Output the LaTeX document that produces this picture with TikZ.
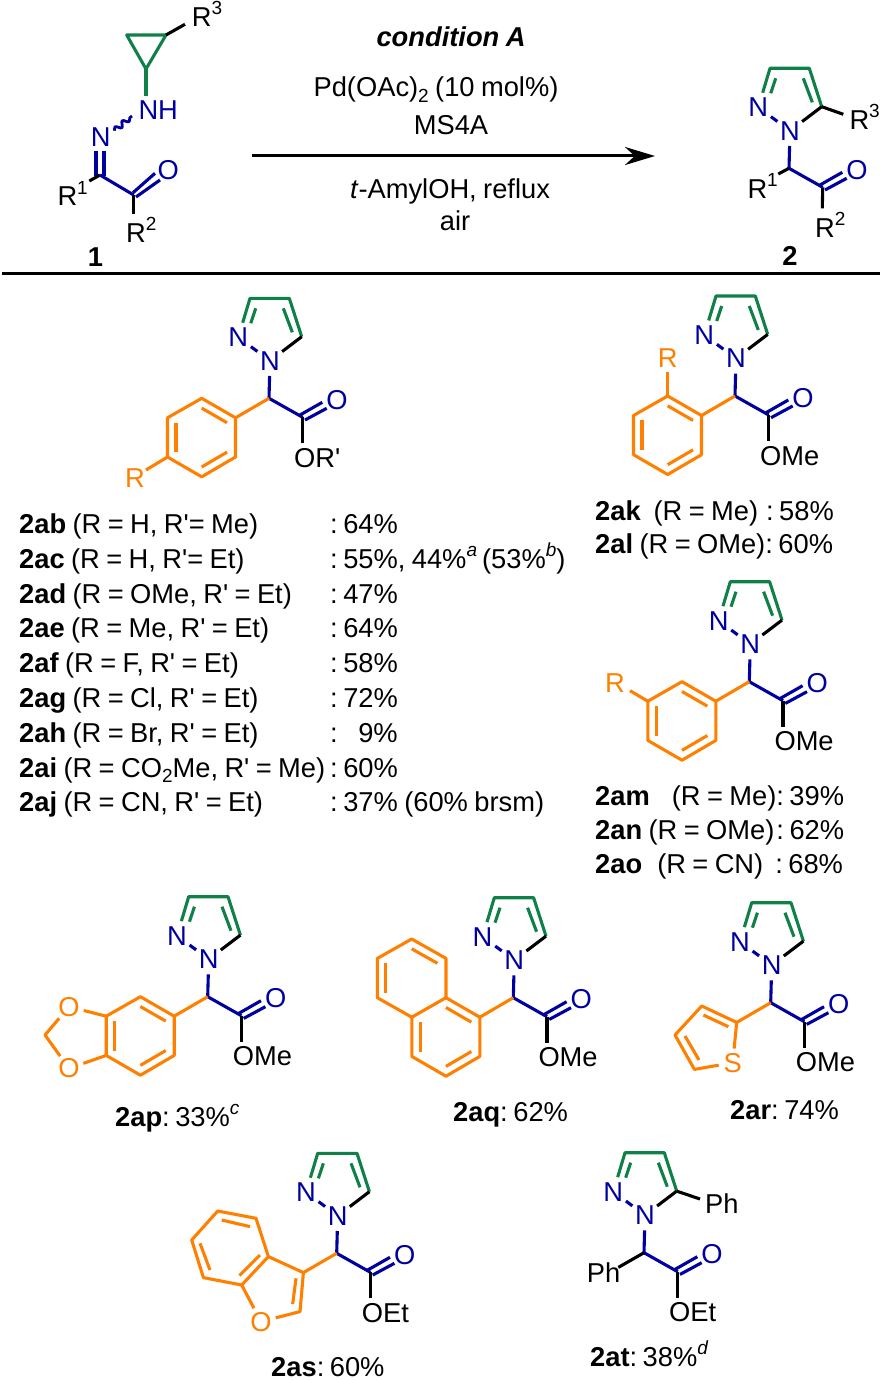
\documentclass[tikz,border=0pt]{standalone}
\usepackage{fontspec}
\setmainfont{Liberation Sans}
\usetikzlibrary{arrows.meta,calc,decorations.pathmorphing}

\definecolor{pzgreen}{HTML}{0F8048}
\definecolor{coreblue}{HTML}{0000A0}
\definecolor{arylorange}{HTML}{FF8000}

\newcommand{\chemfont}{\fontsize{27.3}{30}\selectfont\spaceskip=6.4pt\relax}

\tikzset{
  every node/.style={font=\chemfont,inner sep=0pt},
  bond/.style={draw=black,line width=3.1pt,line join=round},
  greenbond/.style={bond,draw=pzgreen},
  bluebond/.style={bond,draw=coreblue},
  orangebond/.style={bond,draw=arylorange},
  atom/.style={circle,minimum size=30pt,text=coreblue},
  label/.style={anchor=base west},
}

\newcommand{\pr}{\textquotesingle}
\newcommand{\sups}[1]{\raisebox{0.43em}{\fontsize{19}{20}\selectfont #1}}
\newcommand{\subs}[1]{\raisebox{-0.2em}{\fontsize{19}{20}\selectfont #1}}
\newcommand{\colsp}{:\hspace{5.5pt}}

% pyrazole ring, CH and C=O, all relative to the CH
\newcommand{\pzarm}[1]{
  \coordinate (#1Ca) at (0,0);
  \coordinate (#1C3) at (-19,-100);
  \coordinate (#1C4) at (20.3,-100);
  \coordinate (#1C5) at (32.7,-61.6);
  \coordinate (#1Cc) at (33.7,19);
  \node[atom] (#1N1) at (1,-37.5) {N};
  \node[atom] (#1N2) at (-30.7,-61) {N};
  \node[atom] (#1O) at (68,1.7) {O};
  \draw[greenbond] (#1N2) -- (#1C3) -- (#1C4) -- (#1C5);
  \draw[greenbond] (-13.3,-90) -- (-18.3,-75);
  \draw[greenbond] (14.3,-90) -- (23.3,-66);
  \draw[bond] (#1C5) -- (#1N1);
  \draw[bluebond,shorten >=0.5pt,shorten <=0.5pt] (#1N2) -- (#1N1);
  \draw[bluebond] (#1N1) -- (#1Ca) -- (#1Cc);
  \draw[bluebond] (31,16.7) -- (53.3,4);
  \draw[bluebond] (36,21.7) -- (57.7,10);
}

% ester arm below the C=O
\newcommand{\esterarm}[2]{
  \coordinate (#1Oe) at (33.7,45);
  \draw[bond] (#1Cc) -- (#1Oe);
  \node[label] (#1OR) at (25,69) {#2};
}

% benzene ring hanging off the CH
\newcommand{\benzring}[1]{
  \coordinate (#1c) at (-67.4,39.2);
  \coordinate (#1a) at (-33.5,19.5);
  \coordinate (#1b) at (-67.3,0);
  \coordinate (#1d) at (-101.5,19.5);
  \coordinate (#1e) at (-101.5,58.7);
  \coordinate (#1f) at (-67.3,78.5);
  \coordinate (#1g) at (-33.5,58.7);
  \draw[orangebond] (#1Ca) -- (#1a);
  \draw[orangebond] (#1a) -- (#1b) -- (#1d) -- (#1e) -- (#1f) -- (#1g) -- cycle;
  \draw[orangebond] ($(#1c)!.75!(#1a)$) -- ($(#1c)!.75!(#1b)$);
  \draw[orangebond] ($(#1c)!.75!(#1d)$) -- ($(#1c)!.75!(#1e)$);
  \draw[orangebond] ($(#1c)!.75!(#1f)$) -- ($(#1c)!.75!(#1g)$);
}

\begin{document}
\begin{tikzpicture}[x=1pt,y=-1pt]

\useasboundingbox (0,0) rectangle (883,1380);

%reactant 1
\coordinate (cpa) at (126.7,35);
\coordinate (cpb) at (166,35);
\coordinate (cpc) at (146,69);
\coordinate (rthree) at (185,24.3);
\coordinate (imc) at (100,175);
\coordinate (coc) at (133.7,195);
\coordinate (rone) at (89.3,181);
\coordinate (rtwo) at (133.7,214);
\coordinate (nhtop) at (146,96);
\coordinate (wavea) at (114.3,130.7);
\coordinate (waveb) at (132,116);
\node[label] (rthreelab) at (191.7,26.7) {R\sups{3}};
\node[label,text=coreblue] (nh) at (138.3,120) {NH};
\node[atom] (iminen) at (100.7,136.7) {N};
\node[atom] (cotop) at (168.3,170) {O};
\node[label] (ronelab) at (57.3,206) {R\sups{1}};
\node[label] (rtwolab) at (126,242.7) {R\sups{2}};
\node[font=\chemfont\bfseries] (one) at (95.5,257) {1};
\draw[greenbond] (cpa) -- (cpb) -- (cpc) -- cycle;
\draw[greenbond] (cpc) -- (nhtop);
\draw[bond] (cpb) -- (rthree);
\draw[bluebond,line width=2.8pt,decorate,decoration={snake,amplitude=2.6pt,segment length=9.5pt}] (wavea) -- (waveb);
\draw[bluebond] (96,150.7) -- (96,176);
\draw[bluebond] (104,150.7) -- (104,176);
\draw[bond] (imc) -- (rone);
\draw[bluebond] (imc) -- (coc);
\draw[bluebond] (133,192.7) -- (155,173.3);
\draw[bluebond] (136,197) -- (160,180);
\draw[bond] (coc) -- (rtwo);

%arrow and conditions
\coordinate (arrowa) at (252,156);
\coordinate (arrowb) at (655,156);
\draw[draw=black,line width=3pt,-{Stealth[length=30pt,width=18pt]}] (arrowa) -- (arrowb);
\node[anchor=base,font=\chemfont\bfseries\itshape] (condA) at (451,47) {condition A};
\node[anchor=base] (pd) at (436,97) {Pd(OAc)\subs{2} (10 mol\%)};
\node[anchor=base] (ms) at (451,135) {MS4A};
\node[anchor=base] (amyl) at (450,199) {\textit{t}-AmylOH, reflux};
\node[anchor=base] (air) at (455,231) {air};

%product 2
\begin{scope}[shift={(789,168.3)}]
\pzarm{prod}
\coordinate (prodRa) at (54.3,-54);
\coordinate (prodRb) at (-10.7,5.7);
\coordinate (prodRc) at (33.3,40);
\draw[bond] (prodC5) -- (prodRa);
\draw[bond] (prodCa) -- (prodRb);
\draw[bond] (prodCc) -- (prodRc);
\node[label] (prodRthree) at (60.3,-39) {R\sups{3}};
\node[label] (prodRone) at (-41.7,30) {R\sups{1}};
\node[label] (prodRtwo) at (26,69) {R\sups{2}};
\end{scope}
\node[font=\chemfont\bfseries] (two) at (790,256) {2};

%separator
\coordinate (sepa) at (2,273);
\coordinate (sepb) at (880,273);
\draw[draw=black,line width=3pt] (sepa) -- (sepb);

%para
\begin{scope}[shift={(269,398.3)}]
\pzarm{pa}
\esterarm{pa}{OR\pr}
\benzring{pa}
\coordinate (paRe) at (-123,71.7);
\draw[orangebond] (pae) -- (paRe);
\node[text=arylorange] (paR) at (-134,79.4) {R};
\end{scope}

%ortho
\begin{scope}[shift={(735,396)}]
\pzarm{or}
\esterarm{or}{OMe}
\benzring{or}
\coordinate (orRe) at (-67.3,-24);
\draw[orangebond] (orb) -- (orRe);
\node[text=arylorange] (orR) at (-67.3,-37.7) {R};
\end{scope}

%meta
\begin{scope}[shift={(749.3,681.7)}]
\pzarm{me}
\esterarm{me}{OMe}
\benzring{me}
\coordinate (meRe) at (-119.3,9);
\draw[orangebond] (med) -- (meRe);
\node[text=arylorange] (meR) at (-134.3,1.7) {R};
\end{scope}

%2ap
\begin{scope}[shift={(207.7,996.7)}]
\pzarm{ap}
\esterarm{ap}{OMe}
\benzring{ap}
\node[atom,text=arylorange] (apOa) at (-138.7,10) {O};
\node[atom,text=arylorange] (apOb) at (-138.7,71.7) {O};
\coordinate (apch) at (-162.7,38.3);
\draw[orangebond] (apd) -- (apOa) -- (apch) -- (apOb) -- (ape);
\end{scope}

%2aq
\begin{scope}[shift={(513.3,997.7)}]
\pzarm{aq}
\esterarm{aq}{OMe}
\benzring{aq}
\coordinate (aqcc) at (-101.6,-19.6);
\coordinate (aqh) at (-67.3,-39.3);
\coordinate (aqi) at (-101.6,-58.7);
\coordinate (aqj) at (-136,-39.3);
\coordinate (aqk) at (-136,0);
\draw[orangebond] (aqb) -- (aqh) -- (aqi) -- (aqj) -- (aqk) -- (aqd);
\draw[orangebond] ($(aqcc)!.75!(aqh)$) -- ($(aqcc)!.75!(aqi)$);
\draw[orangebond] ($(aqcc)!.75!(aqj)$) -- ($(aqcc)!.75!(aqk)$);
\end{scope}

%2ar
\begin{scope}[shift={(770.7,1002.7)}]
\pzarm{ar}
\esterarm{ar}{OMe}
\coordinate (ara) at (-34,19.7);
\coordinate (arb) at (-69,3.3);
\coordinate (arc) at (-95.7,32.3);
\coordinate (ard) at (-76.3,66.7);
\node[atom,minimum size=28pt,text=arylorange] (arS) at (-38,60) {S};
\draw[orangebond] (arCa) -- (ara);
\draw[orangebond] (arS) -- (ara) -- (arb) -- (arc) -- (ard) -- (arS);
\draw[orangebond] (-42.3,24) -- (-67.3,12.3);
\draw[orangebond] (-85.7,33.3) -- (-71.7,57.3);
\end{scope}

%2as
\begin{scope}[shift={(336.7,1253.3)}]
\pzarm{as}
\esterarm{as}{OEt}
\coordinate (asa) at (-33.3,19.3);
\coordinate (asb) at (-68.3,3.3);
\coordinate (asc) at (-80.7,-35);
\coordinate (asd) at (-119,-42.3);
\coordinate (ase) at (-145,-13.3);
\coordinate (asf) at (-133.3,24.3);
\coordinate (asg) at (-95,31.7);
\coordinate (ash) at (-36.7,58.3);
\node[atom,text=arylorange] (asO) at (-75.7,68.3) {O};
\draw[orangebond] (asCa) -- (asa);
\draw[orangebond] (asa) -- (asb) -- (asc) -- (asd) -- (ase) -- (asf) -- (asg) -- (asb);
\draw[orangebond] (asg) -- (asO) -- (ash) -- (asa);
\draw[orangebond] (-40.7,25) -- (-44,50.7);
\draw[orangebond] (-86.7,-26.7) -- (-115,-33.3);
\draw[orangebond] (-136.7,-10) -- (-126.7,16.7);
\draw[orangebond] (-76.7,1.7) -- (-97.3,22.3);
\end{scope}

%2at
\begin{scope}[shift={(644,1252.7)}]
\pzarm{at}
\esterarm{at}{OEt}
\coordinate (atPa) at (56,-53.7);
\coordinate (atPb) at (-25.7,14.7);
\draw[bond] (atC5) -- (atPa);
\draw[bond] (atCa) -- (atPb);
\node[label] (atPhA) at (61,-39.3) {Ph};
\node[label] (atPhB) at (-57.3,30) {Ph};
\end{scope}

%table 2ab-2aj
\node[label] (lab2ab) at (19,533.5) {\textbf{2ab} (R = H, R\pr= Me)};
\node[label] (yld2ab) at (330,533.5) {\colsp 64\%};
\node[label] (lab2ac) at (19,568.3) {\textbf{2ac} (R = H, R\pr= Et)};
\node[label] (yld2ac) at (330,568.3) {\colsp 55\%, 44\%\sups{\textit{a}}\hspace{5pt}(53\%\sups{\textit{b}})};
\node[label] (lab2ad) at (19,603.1) {\textbf{2ad} (R = OMe, R\pr{} = Et)};
\node[label] (yld2ad) at (330,603.1) {\colsp 47\%};
\node[label] (lab2ae) at (19,637.9) {\textbf{2ae} (R = Me, R\pr{} = Et)};
\node[label] (yld2ae) at (330,637.9) {\colsp 64\%};
\node[label] (lab2af) at (19,672.7) {\textbf{2af} (R = F, R\pr{} = Et)};
\node[label] (yld2af) at (330,672.7) {\colsp 58\%};
\node[label] (lab2ag) at (19,707.5) {\textbf{2ag} (R = Cl, R\pr{} = Et)};
\node[label] (yld2ag) at (330,707.5) {\colsp 72\%};
\node[label] (lab2ah) at (19,742.3) {\textbf{2ah} (R = Br, R\pr{} = Et)};
\node[label] (yld2ah) at (330,742.3) {:\hspace{20.5pt}9\%};
\node[label] (lab2ai) at (19,777.1) {\textbf{2ai} (R = CO\subs{2}Me, R\pr{} = Me)};
\node[label] (yld2ai) at (330,777.1) {\colsp 60\%};
\node[label] (lab2aj) at (19,811.9) {\textbf{2aj} (R = CN, R\pr{} = Et)};
\node[label] (yld2aj) at (330,811.9) {\colsp 37\% (60\% brsm)};

%right column
\node[label] (lab2ak) at (595,520.5) {\textbf{2ak}\ \ (R = Me)\hspace{8pt}\colsp 58\%};
\node[label] (lab2al) at (595,553.5) {\textbf{2al} (R = OMe)\colsp 60\%};
\node[label] (lab2am) at (595,805.5) {\textbf{2am}\hspace{22pt}(R = Me)\colsp 39\%};
\node[label] (lab2an) at (595,839.5) {\textbf{2an} (R = OMe)\hspace{2pt}\colsp 62\%};
\node[label] (lab2ao) at (595,873.5) {\textbf{2ao}\hspace{15pt}(R = CN)\hspace{12pt}\colsp 68\%};

%captions
\node[label] (lab2ap) at (115,1126) {\textbf{2ap}\colsp 33\%\sups{\textit{c}}};
\node[label] (lab2aq) at (453,1121.5) {\textbf{2aq}\colsp 62\%};
\node[label] (lab2ar) at (730,1119.5) {\textbf{2ar}\colsp 74\%};
\node[label] (lab2as) at (271,1376) {\textbf{2as}\colsp 60\%};
\node[label] (lab2at) at (590,1366) {\textbf{2at}\colsp 38\%\sups{\textit{d}}};

\end{tikzpicture}
\end{document}
